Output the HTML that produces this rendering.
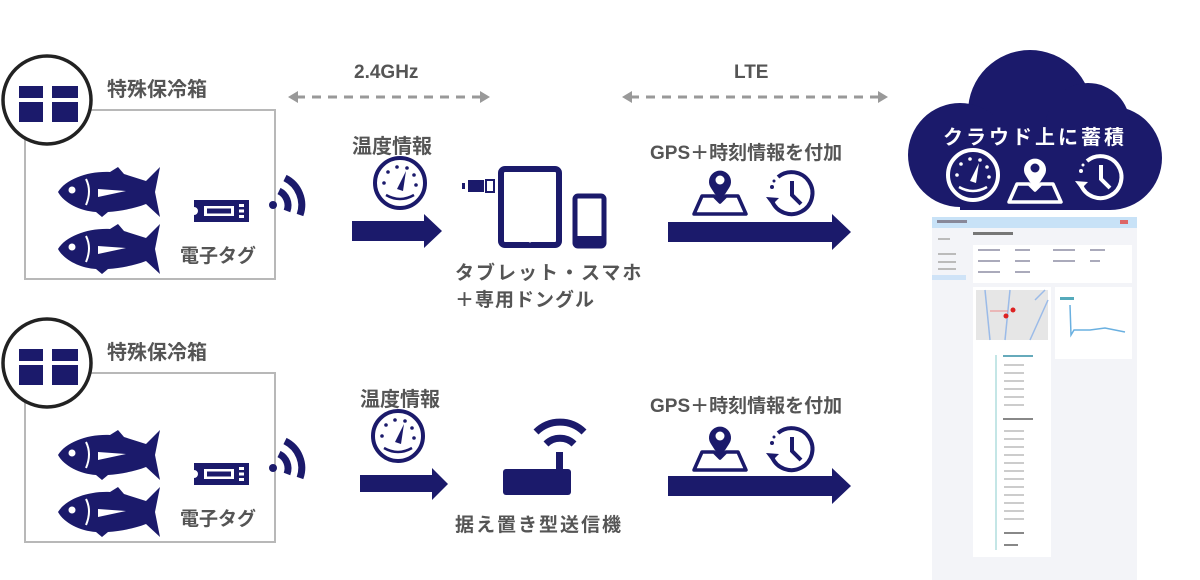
<!DOCTYPE html>
<html><head><meta charset="utf-8"><style>
html,body{margin:0;padding:0;background:#fff;}
svg{display:block;}
text{font-family:"Liberation Sans","Noto Sans CJK JP",sans-serif;}
</style></head><body>
<svg width="1200" height="580" viewBox="0 0 1200 580" xmlns="http://www.w3.org/2000/svg">
<defs>
  <g id="fish">
    <path d="M0,25 C8,12 30,4 52,5 L60,0 L66,7 L88,14 L102,0 L97,25 L102,50 L88,37 C75,42 62,44 50,45 L44,50 L38,45 C22,44 6,36 0,25 Z" fill="#1b1a6b"/>
    <circle cx="14" cy="23" r="3.5" fill="#fff"/>
    <path d="M28,12 Q34,24 28,38" stroke="#fff" stroke-width="2" fill="none"/>
    <path d="M40,22 L68,24 L40,30 Z" fill="#fff"/>
  </g>
  <g id="tag">
    <path d="M0,0 H55 V22 H0 V15 A4,4 0 0 0 0,7 Z" fill="#1b1a6b"/>
    <rect x="10" y="6" width="30" height="10" fill="#fff"/>
    <rect x="13" y="8.5" width="24" height="5" fill="#1b1a6b"/>
    <rect x="45" y="4" width="5" height="3" fill="#fff"/><rect x="45" y="9.5" width="5" height="3" fill="#fff"/><rect x="45" y="15" width="5" height="3" fill="#fff"/>
  </g>
  <g id="wifi">
    <circle cx="0" cy="0" r="4" fill="#1b1a6b"/>
    <path d="M6,-14 A16,16 0 0 1 14,6" stroke="#1b1a6b" stroke-width="7" fill="none"/>
    <path d="M12,-27 A30,30 0 0 1 27,10" stroke="#1b1a6b" stroke-width="7" fill="none"/>
  </g>
  <g id="box">
    <rect x="25" y="110" width="250" height="169" fill="#fff" stroke="#b8b8b8" stroke-width="2"/>
    <circle cx="47" cy="100" r="44" fill="#fff" stroke="#222" stroke-width="3.5"/>
    <rect x="19" y="86" width="24" height="12" fill="#1b1a6b"/>
    <rect x="52" y="86" width="26" height="12" fill="#1b1a6b"/>
    <rect x="19" y="102" width="24" height="20" fill="#1b1a6b"/>
    <rect x="52" y="102" width="26" height="20" fill="#1b1a6b"/>
    <text x="107" y="96" font-size="20" fill="#555" font-weight="bold">特殊保冷箱</text>
    <use href="#fish" x="58" y="167"/>
    <use href="#fish" x="58" y="224"/>
    <use href="#tag" x="194" y="200"/>
    <text x="180" y="262" font-size="19" fill="#555" font-weight="bold">電子タグ</text>
    <use href="#wifi" x="273" y="205"/>
  </g>
  <g id="gauge">
    <circle cx="0" cy="0" r="25" fill="none" stroke="#1b1a6b" stroke-width="4"/>
    <path d="M-14,12 Q0,20 14,12" stroke="#1b1a6b" stroke-width="2.5" fill="none"/>
    <circle cx="-16" cy="0" r="1.8" fill="#1b1a6b"/><circle cx="-12" cy="-11" r="1.8" fill="#1b1a6b"/><circle cx="-3" cy="-16" r="1.8" fill="#1b1a6b"/><circle cx="7" cy="-15" r="1.8" fill="#1b1a6b"/><circle cx="14" cy="-8" r="1.8" fill="#1b1a6b"/><circle cx="16" cy="2" r="1.8" fill="#1b1a6b"/>
    <path d="M-3,6 L6,-12 L3,8 Z" fill="#1b1a6b"/>
  </g>
  <g id="gauge2">
    <circle cx="0" cy="0" r="25" fill="none" stroke="#fff" stroke-width="4"/>
    <path d="M-14,12 Q0,20 14,12" stroke="#fff" stroke-width="2.5" fill="none"/>
    <circle cx="-16" cy="0" r="1.8" fill="#fff"/><circle cx="-12" cy="-11" r="1.8" fill="#fff"/><circle cx="-3" cy="-16" r="1.8" fill="#fff"/><circle cx="7" cy="-15" r="1.8" fill="#fff"/><circle cx="14" cy="-8" r="1.8" fill="#fff"/><circle cx="16" cy="2" r="1.8" fill="#fff"/>
    <path d="M-3,6 L6,-12 L3,8 Z" fill="#fff"/>
  </g>
  <g id="pinmap">
    <path d="M-26,30 L-18,12 H-6 L0,18 L6,12 H18 L26,30 Z" fill="none" stroke="#1b1a6b" stroke-width="3.5" stroke-linejoin="round"/>
    <path d="M0,18 L-9,4 A11,11 0 1 1 9,4 Z" fill="#1b1a6b"/>
    <circle cx="0" cy="-4" r="4.5" fill="#fff"/>
  </g>
  <g id="clock">
    <path d="M-14,-16 A21,21 0 1 1 -20,8" stroke="#1b1a6b" stroke-width="4" fill="none"/>
    <path d="M-26,4 L-20,12 L-13,5 Z" fill="#1b1a6b"/>
    <circle cx="-20" cy="-6" r="2" fill="#1b1a6b"/><circle cx="-18" cy="-12" r="1.5" fill="#1b1a6b"/>
    <path d="M0,-12 V2 L9,11" stroke="#1b1a6b" stroke-width="4" fill="none"/>
  </g>
  <g id="pinmapW">
    <path d="M-26,30 L-18,12 H-6 L0,18 L6,12 H18 L26,30 Z" fill="none" stroke="#fff" stroke-width="3.5" stroke-linejoin="round"/>
    <path d="M0,18 L-9,4 A11,11 0 1 1 9,4 Z" fill="#fff"/>
    <circle cx="0" cy="-4" r="4.5" fill="#1b1a6b"/>
  </g>
  <g id="clockW">
    <path d="M-14,-16 A21,21 0 1 1 -20,8" stroke="#fff" stroke-width="4" fill="none"/>
    <path d="M-26,4 L-20,12 L-13,5 Z" fill="#fff"/>
    <circle cx="-20" cy="-6" r="2" fill="#fff"/><circle cx="-18" cy="-12" r="1.5" fill="#fff"/>
    <path d="M0,-12 V2 L9,11" stroke="#fff" stroke-width="4" fill="none"/>
  </g>
</defs>

<!-- boxes -->
<use href="#box"/>
<use href="#box" y="263"/>

<!-- dashed arrows -->
<text x="354" y="78" font-size="19" fill="#555" font-weight="bold">2.4GHz</text>
<line x1="296" y1="97" x2="482" y2="97" stroke="#999" stroke-width="3" stroke-dasharray="9,7"/>
<path d="M288,97 L298,91 L298,103 Z" fill="#999"/><path d="M490,97 L480,91 L480,103 Z" fill="#999"/>
<text x="734" y="78" font-size="19" fill="#555" font-weight="bold">LTE</text>
<line x1="630" y1="97" x2="880" y2="97" stroke="#999" stroke-width="3" stroke-dasharray="9,7"/>
<path d="M622,97 L632,91 L632,103 Z" fill="#999"/><path d="M888,97 L878,91 L878,103 Z" fill="#999"/>

<!-- top flow -->
<text x="352" y="153" font-size="20" fill="#555" font-weight="bold">温度情報</text>
<use href="#gauge" x="400" y="183"/>
<path d="M352,221 H424 V214 L442,231 L424,248 V241 H352 Z" fill="#1b1a6b"/>
<rect x="468" y="180" width="16" height="12" fill="#1b1a6b"/><rect x="462" y="183" width="3" height="6" fill="#1b1a6b"/>
<rect x="486" y="180" width="8" height="12" fill="none" stroke="#1b1a6b" stroke-width="2"/>
<rect x="501" y="169" width="58" height="76" rx="4" fill="none" stroke="#1b1a6b" stroke-width="6"/>
<circle cx="530" cy="241" r="1.5" fill="#fff"/>
<rect x="575" y="196" width="29" height="50" rx="3" fill="none" stroke="#1b1a6b" stroke-width="5"/>
<rect x="575" y="236" width="29" height="10" fill="#1b1a6b"/>
<text x="455" y="279" font-size="19" fill="#555" font-weight="bold" letter-spacing="2">タブレット・スマホ</text>
<text x="455" y="306" font-size="19" fill="#555" font-weight="bold" letter-spacing="1">＋専用ドングル</text>

<text x="650" y="159" font-size="19" fill="#555" font-weight="bold">GPS＋時刻情報を付加</text>
<use href="#pinmap" x="720" y="184"/>
<use href="#clock" x="792" y="193"/>
<path d="M668,222 H832 V214 L851,232 L832,250 V242 H668 Z" fill="#1b1a6b"/>

<!-- bottom flow -->
<text x="360" y="406" font-size="20" fill="#555" font-weight="bold">温度情報</text>
<use href="#gauge" x="398" y="436"/>
<path d="M360,475 H432 V468 L448,484 L432,500 V492 H360 Z" fill="#1b1a6b"/>
<path d="M536,432 A34,34 0 0 1 584,432" stroke="#1b1a6b" stroke-width="7" fill="none"/>
<path d="M546,444 A20,20 0 0 1 574,444" stroke="#1b1a6b" stroke-width="7" fill="none"/>
<rect x="556" y="452" width="7" height="20" fill="#1b1a6b"/>
<rect x="503" y="469" width="68" height="26" rx="3" fill="#1b1a6b"/>
<text x="455" y="531" font-size="19" fill="#555" font-weight="bold" letter-spacing="2">据え置き型送信機</text>

<text x="650" y="412" font-size="19" fill="#555" font-weight="bold">GPS＋時刻情報を付加</text>
<use href="#pinmap" x="720" y="440"/>
<use href="#clock" x="792" y="449"/>
<path d="M668,476 H832 V468 L851,486 L832,504 V496 H668 Z" fill="#1b1a6b"/>

<!-- cloud -->
<g fill="#1b1a6b">
  <circle cx="1030" cy="112" r="62"/>
  <circle cx="960" cy="155" r="52"/>
  <circle cx="1110" cy="158" r="52"/>
  <circle cx="1088" cy="125" r="42"/>
  <rect x="960" y="140" width="150" height="70"/>
</g>
<text x="1035" y="144" font-size="20" fill="#fff" font-weight="bold" text-anchor="middle" letter-spacing="3">クラウド上に蓄積</text>
<use href="#gauge2" x="973" y="175"/>
<use href="#pinmapW" x="1035" y="172"/>
<use href="#clockW" x="1101" y="177"/>

<!-- screenshot -->
<rect x="932" y="217" width="205" height="363" fill="#f3f4f8"/>
<rect x="932" y="217" width="205" height="11" fill="#c8e2f7"/>
<rect x="937" y="220" width="30" height="3" fill="#889"/>
<rect x="1120" y="220" width="8" height="4" fill="#d66"/>
<rect x="932" y="275" width="34" height="5" fill="#cfe3f7"/>
<g fill="#bbb">
<rect x="938" y="238" width="12" height="2"/><rect x="938" y="253" width="18" height="2"/><rect x="938" y="261" width="18" height="2"/><rect x="938" y="268" width="18" height="2"/>
</g>
<rect x="973" y="232" width="40" height="3" fill="#777"/>
<rect x="973" y="245" width="159" height="38" fill="#fff"/>
<g fill="#aab">
<rect x="978" y="249" width="22" height="2"/><rect x="1015" y="249" width="15" height="2"/><rect x="1053" y="249" width="22" height="2"/><rect x="1090" y="249" width="15" height="2"/>
<rect x="978" y="260" width="22" height="2"/><rect x="1015" y="260" width="15" height="2"/><rect x="1053" y="260" width="22" height="2"/><rect x="1090" y="260" width="10" height="2"/>
<rect x="978" y="271" width="22" height="2"/><rect x="1015" y="271" width="15" height="2"/>
</g>
<rect x="973" y="287" width="78" height="270" fill="#fff"/>
<rect x="976" y="290" width="72" height="50" fill="#e6e6e6"/>
<path d="M985,290 L990,340 M1010,290 L1005,340 M1035,300 L1045,290 M1030,340 L1048,300" stroke="#9bbbe8" stroke-width="1.5"/>
<circle cx="1006" cy="316" r="2.5" fill="#d22"/><circle cx="1013" cy="310" r="2.5" fill="#d22"/>
<path d="M990,311 H1008" stroke="#e88" stroke-width="1"/>
<line x1="996" y1="355" x2="996" y2="550" stroke="#8cc" stroke-width="1"/>
<g fill="#ccc">
<rect x="1003" y="355" width="30" height="2" fill="#6ab"/>
<rect x="1004" y="364" width="20" height="2"/><rect x="1004" y="372" width="20" height="2"/><rect x="1004" y="380" width="20" height="2"/><rect x="1004" y="388" width="20" height="2"/><rect x="1004" y="396" width="20" height="2"/><rect x="1004" y="404" width="20" height="2"/>
<rect x="1003" y="418" width="30" height="2" fill="#888"/>
<rect x="1004" y="430" width="20" height="2"/><rect x="1004" y="438" width="20" height="2"/><rect x="1004" y="446" width="20" height="2"/><rect x="1004" y="454" width="20" height="2"/><rect x="1004" y="462" width="20" height="2"/><rect x="1004" y="470" width="20" height="2"/><rect x="1004" y="478" width="20" height="2"/><rect x="1004" y="486" width="20" height="2"/><rect x="1004" y="494" width="20" height="2"/><rect x="1004" y="502" width="20" height="2"/><rect x="1004" y="510" width="20" height="2"/><rect x="1004" y="518" width="20" height="2"/>
<rect x="1004" y="532" width="20" height="2" fill="#888"/><rect x="1004" y="544" width="14" height="2" fill="#888"/>
</g>
<rect x="1055" y="287" width="77" height="72" fill="#fff"/>
<rect x="1060" y="297" width="14" height="3" fill="#5ab"/>
<path d="M1070,305 L1071,335 L1074,330 L1090,330 L1105,328 L1115,330 L1125,332" stroke="#6ab0e0" stroke-width="1.5" fill="none"/>
</svg>
</body></html>
